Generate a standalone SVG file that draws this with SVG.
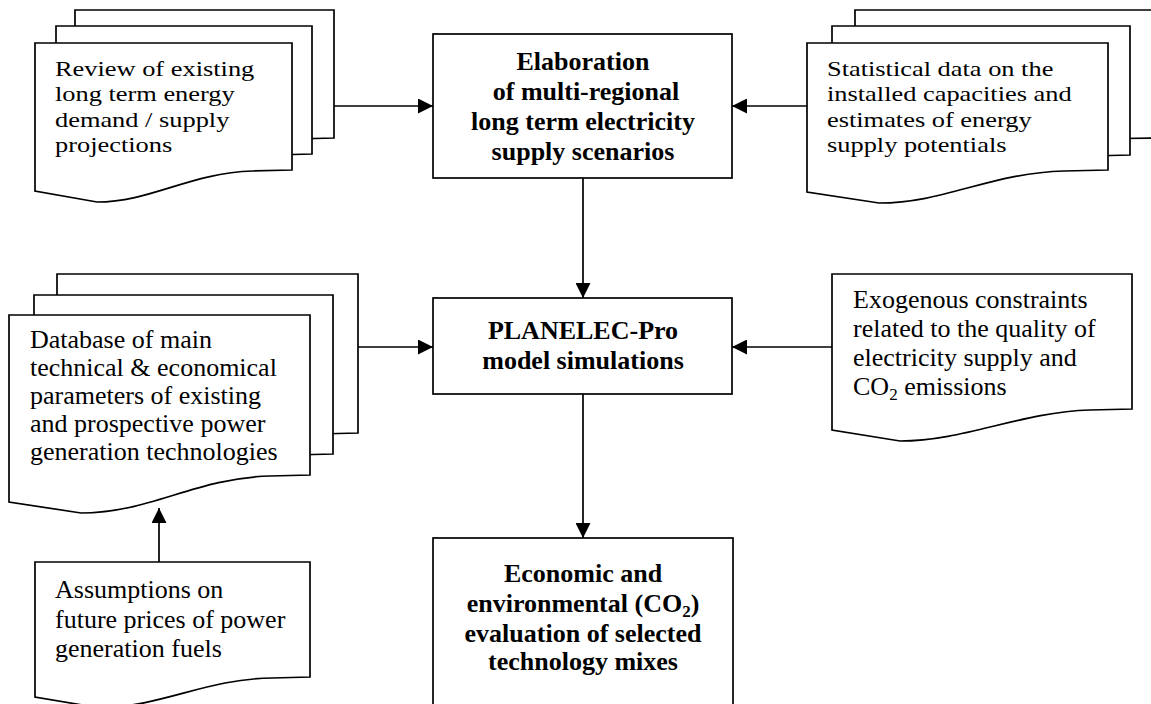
<svg xmlns="http://www.w3.org/2000/svg" width="1151" height="704" viewBox="0 0 1151 704">
  <defs>
    <marker id="arrow" markerUnits="userSpaceOnUse" markerWidth="15" markerHeight="15" refX="15" refY="7.5" orient="auto">
      <path d="M0,0 L15,7.5 L0,15 Z" fill="#000"/>
    </marker>
    <style>
      .shape { fill: #fff; stroke: #000; stroke-width: 1.7; stroke-linejoin: miter; }
      .conn { fill: none; stroke: #000; stroke-width: 1.7; marker-end: url(#arrow); }
      .doc { font-family: "Liberation Serif", "Times New Roman", serif; font-size: 26px; fill: #000; }
      .doc-tight { font-family: "Liberation Serif", "Times New Roman", serif; font-size: 22px; fill: #000; }
      .proc { font-family: "Liberation Serif", "Times New Roman", serif; font-size: 26px; font-weight: bold; fill: #000; text-anchor: middle; }
      .sub { font-size: 17px; }
    </style>
  </defs>
  <rect width="1151" height="704" fill="#fff"/>

  <!-- Stacked documents: review of projections -->
  <g id="review-projections">
    <path class="shape" d="M75,10 H334 V138 L295,139 C231,141 193,170 137,170 L75,159 Z"/>
    <path class="shape" d="M56,26 H312 V154 L273,155 C209,157 171,186 118,186 L56,175 Z"/>
    <path class="shape" d="M35,43 H292 V170 L253,171 C189,173 151,202 97,202 L35,191 Z"/>
    <!-- tight line pitch: narrower em, stretched horizontally -->
    <g transform="translate(55,0) scale(1.2,1) translate(-55,0)">
      <text class="doc-tight" x="55" y="76">Review of existing</text>
      <text class="doc-tight" x="55" y="101.5">long term energy</text>
      <text class="doc-tight" x="55" y="127">demand / supply</text>
      <text class="doc-tight" x="55" y="152.5">projections</text>
    </g>
  </g>

  <!-- Stacked documents: statistical data -->
  <g id="statistical-data">
    <path class="shape" d="M855,10 H1160 V138 L1120,138.5 C1060,141 1010,170 930,170 L855,159 Z"/>
    <path class="shape" d="M832,26 H1130 V155 L1090,156 C1030,158 980,186 904,186 L832,176 Z"/>
    <path class="shape" d="M807,43 H1108 V170 L1064,171 C990,173 945,203 879,203 L807,192 Z"/>
    <g transform="translate(827,0) scale(1.2,1) translate(-827,0)">
      <text class="doc-tight" x="827" y="76">Statistical data on the</text>
      <text class="doc-tight" x="827" y="101.5">installed capacities and</text>
      <text class="doc-tight" x="827" y="127">estimates of energy</text>
      <text class="doc-tight" x="827" y="152.5">supply potentials</text>
    </g>
  </g>

  <!-- Process: scenario elaboration -->
  <g id="elaboration">
    <rect class="shape" x="433" y="34" width="299" height="144"/>
    <text class="proc" x="583" y="70">Elaboration</text>
    <text class="proc" x="586" y="100">of multi-regional</text>
    <text class="proc" x="583" y="130">long term electricity</text>
    <text class="proc" x="583" y="160">supply scenarios</text>
  </g>

  <!-- Stacked documents: technology database -->
  <g id="technology-database">
    <path class="shape" d="M57,274 H358 V433 L318,434 C243,436 198,471 129,471 L57,460 Z"/>
    <path class="shape" d="M34,295 H333 V454 L293,455 C218,457 173,492 106,492 L34,481 Z"/>
    <path class="shape" d="M9,315 H310 V475 L270,476 C195,478 150,513 81,513 L9,502 Z"/>
    <text class="doc" x="30" y="348">Database of main</text>
    <text class="doc" x="30" y="376">technical &amp; economical</text>
    <text class="doc" x="30" y="404">parameters of existing</text>
    <text class="doc" x="30" y="432">and prospective power</text>
    <text class="doc" x="30" y="460">generation technologies</text>
  </g>

  <!-- Process: model simulations -->
  <g id="planelec">
    <rect class="shape" x="433" y="298" width="299" height="96"/>
    <text class="proc" x="583" y="339">PLANELEC-Pro</text>
    <text class="proc" x="583" y="369">model simulations</text>
  </g>

  <!-- Document: exogenous constraints -->
  <g id="exogenous-constraints">
    <path class="shape" d="M832,274 H1132 V409 L1090,410 C1020,412 965,441 900,441 L832,430 Z"/>
    <text class="doc" x="853" y="308">Exogenous constraints</text>
    <text class="doc" x="853" y="337">related to the quality of</text>
    <text class="doc" x="853" y="366">electricity supply and</text>
    <text class="doc" x="853" y="395">CO<tspan class="sub" dy="5">2</tspan><tspan dy="-5"> emissions</tspan></text>
  </g>

  <!-- Document: fuel price assumptions -->
  <g id="fuel-assumptions">
    <path class="shape" d="M35,562 H310 V677 L272,678 C205,679 165,706 100,708 L35,697 Z"/>
    <text class="doc" x="55" y="598">Assumptions on</text>
    <text class="doc" x="55" y="628">future prices of power</text>
    <text class="doc" x="55" y="657">generation fuels</text>
  </g>

  <!-- Process: economic and environmental evaluation -->
  <g id="evaluation">
    <rect class="shape" x="433" y="538" width="300" height="175"/>
    <text class="proc" x="583" y="582">Economic and</text>
    <text class="proc" x="583" y="612">environmental (CO<tspan class="sub" dy="5">2</tspan><tspan dy="-5">)</tspan></text>
    <text class="proc" x="583" y="642">evaluation of selected</text>
    <text class="proc" x="583" y="670">technology mixes</text>
  </g>

  <!-- Connectors -->
  <g id="connectors">
    <line class="conn" x1="334" y1="106" x2="433" y2="106"/>
    <line class="conn" x1="807" y1="106" x2="732" y2="106"/>
    <line class="conn" x1="583" y1="178" x2="583" y2="298"/>
    <line class="conn" x1="358" y1="347" x2="433" y2="347"/>
    <line class="conn" x1="832" y1="347" x2="732" y2="347"/>
    <line class="conn" x1="583" y1="394" x2="583" y2="538"/>
    <line class="conn" x1="159" y1="562" x2="159" y2="508"/>
  </g>
</svg>
